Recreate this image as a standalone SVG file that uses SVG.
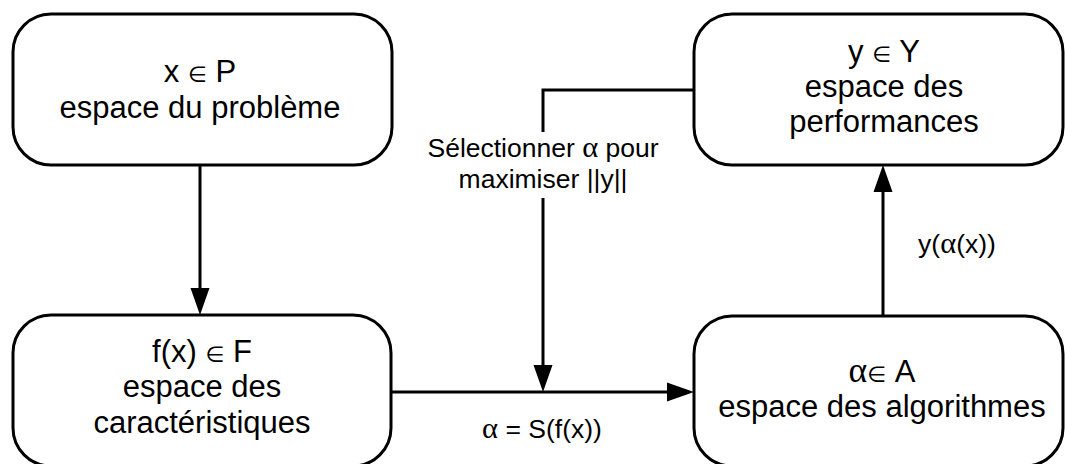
<svg xmlns="http://www.w3.org/2000/svg" width="1065" height="464" viewBox="0 0 1065 464">
<style>
.box{fill:#fff;stroke:#000;stroke-width:3}
.t{font-family:"Liberation Sans",Arial,sans-serif;font-size:31px;fill:#000;text-anchor:middle}
.l{font-family:"Liberation Sans",Arial,sans-serif;font-size:26.5px;fill:#000;text-anchor:middle}
.g{font-family:"Liberation Serif","Times New Roman",serif;font-size:1.15em}
.e{font-family:"DejaVu Sans",sans-serif;font-size:0.7em}
.c{fill:none;stroke:#000;stroke-width:3}
</style>
<defs>
<marker id="ah" markerUnits="userSpaceOnUse" markerWidth="28" markerHeight="20" refX="18" refY="10" orient="auto">
<path d="M0,0.5 L27,10 L0,19.5 z" fill="#000"/>
</marker>
</defs>
<rect width="1065" height="464" fill="#fff"/>
<g id="connectors">
<path class="c" d="M200,165 V306" marker-end="url(#ah)"/>
<path class="c" d="M883,316 V174" marker-end="url(#ah)"/>
<path class="c" d="M392,392 H685" marker-end="url(#ah)"/>
<path class="c" d="M694,90 H543 V132"/>
<path class="c" d="M543,198 V383" marker-end="url(#ah)"/>
<text class="l" x="543" y="157">Sélectionner <tspan class="g">α</tspan> pour</text>
<text class="l" x="543" y="188">maximiser ||y||</text>
<text class="l" x="542" y="438"><tspan class="g">α</tspan> = S(f(x))</text>
<text class="l" x="957" y="253">y(<tspan class="g">α</tspan>(x))</text>
</g>
<g id="node-probleme">
<rect class="box" x="13" y="14" width="379" height="151" rx="38"/>
<text class="t" x="200" y="82">x <tspan class="e">∈</tspan> P</text>
<text class="t" x="200" y="118">espace du problème</text>
</g>
<g id="node-caracteristiques">
<rect class="box" x="13" y="315" width="378" height="151" rx="38"/>
<text class="t" x="202" y="362">f(x) <tspan class="e">∈</tspan> F</text>
<text class="t" x="202" y="397">espace des</text>
<text class="t" x="202" y="433">caractéristiques</text>
</g>
<g id="node-performances">
<rect class="box" x="694" y="14" width="369" height="151" rx="38"/>
<text class="t" x="884" y="62">y <tspan class="e">∈</tspan> Y</text>
<text class="t" x="884" y="97">espace des</text>
<text class="t" x="884" y="132">performances</text>
</g>
<g id="node-algorithmes">
<rect class="box" x="694" y="316" width="369" height="150" rx="38"/>
<text class="t" x="882" y="382"><tspan class="g">α</tspan><tspan class="e">∈</tspan> A</text>
<text class="t" x="882" y="417">espace des algorithmes</text>
</g>
</svg>
